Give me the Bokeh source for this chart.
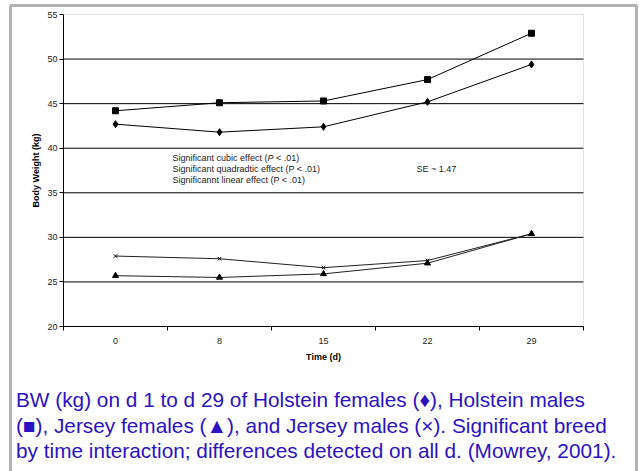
from bokeh.plotting import figure
from bokeh.models import FixedTicker, Label, BoxAnnotation, Range1d
from bokeh.embed import file_html
from bokeh.resources import INLINE

# ---- data ----
days = ["0", "8", "15", "22", "29"]
holstein_f = [42.7, 41.8, 42.4, 45.2, 49.4]
holstein_m = [44.2, 45.1, 45.3, 47.7, 52.9]
jersey_f = [25.7, 25.5, 25.9, 27.1, 30.4]
jersey_m = [27.9, 27.6, 26.6, 27.4, 30.4]
y_ticks = [20, 25, 30, 35, 40, 45, 50, 55]

notes = ["Significant quadradtic effect (P < .01)", "Significannt linear effect (P < .01)"]
caption = [
    "BW (kg) on d 1 to d 29 of Holstein females (\u2666), Holstein males",
    "(\u25a0), Jersey females (\u25b2), and Jersey males (\u00d7). Significant breed",
    "by time interaction; differences detected on all d. (Mowrey, 2001).",
]

FONT = "Liberation Sans"
W, H = 639, 471
# plot area in pixels (layout only)
PL, PR, PT, PB = 63, 583, 14, 326
n = len(days)
ymin, ymax = y_ticks[0], y_ticks[-1]
sx = (PR - PL) / n
sy = (PB - PT) / (ymax - ymin)

xpos = [i + 0.5 for i in range(n)]

p = figure(width=W, height=H, output_backend="svg", toolbar_location=None, tools="",
           x_range=Range1d(-PL / sx, (W - PL) / sx),
           y_range=Range1d(ymin - (H - PB) / sy, ymax + PT / sy),
           min_border=0)
p.background_fill_color = "white"
p.border_fill_color = "white"
p.outline_line_color = None

# x axis
p.xaxis.fixed_location = ymin
p.xaxis.bounds = (0, n)
p.xaxis.ticker = FixedTicker(ticks=xpos, minor_ticks=list(range(n + 1)))
p.xaxis.major_label_overrides = {x: d for x, d in zip(xpos, days)}
p.xaxis.major_tick_out = 0
p.xaxis.major_tick_in = 0
p.xaxis.minor_tick_out = 4
p.xaxis.minor_tick_in = 0
p.xaxis.minor_tick_line_color = "black"
p.xaxis.axis_line_color = "black"
p.xaxis.major_label_standoff = 7
p.xaxis.axis_label = "Time (d)"
p.xaxis.axis_label_standoff = 5

# y axis
p.yaxis.fixed_location = 0
p.yaxis.bounds = (ymin, ymax)
p.yaxis.ticker = FixedTicker(ticks=y_ticks, minor_ticks=[])
p.yaxis.major_tick_out = 4
p.yaxis.major_tick_in = 0
p.yaxis.major_tick_line_color = "black"
p.yaxis.axis_line_color = "black"
p.yaxis.major_label_standoff = 2
p.yaxis.axis_label = "Body Weight (kg)"
p.yaxis.axis_label_standoff = 3

for ax in (p.xaxis[0], p.yaxis[0]):
    ax.major_label_text_font = FONT
    ax.major_label_text_font_size = "9px"
    ax.major_label_text_color = "#222222"
    ax.axis_label_text_font = FONT
    ax.axis_label_text_font_size = "9px"
    ax.axis_label_text_font_style = "bold"
    ax.axis_label_text_color = "black"

p.xgrid.visible = False
p.ygrid.visible = False

# plot-area box and gridlines
p.add_layout(BoxAnnotation(left=0, right=n, bottom=ymin, top=ymax, fill_alpha=0,
                           line_color="#a0a0a0", line_width=1, level="underlay"))
g = y_ticks[1:-1]
p.segment(x0=[0] * len(g), x1=[n] * len(g), y0=g, y1=g, line_color="black",
          line_width=1, level="underlay")

# series
p.line(xpos, holstein_m, line_color="black", line_width=1)
p.scatter(xpos, holstein_m, marker="square", size=6, fill_color="black", line_color="black")
p.line(xpos, holstein_f, line_color="black", line_width=1)
p.scatter(xpos, holstein_f, marker="diamond", size=7, fill_color="black", line_color="black")
p.line(xpos, jersey_m, line_color="#222222", line_width=1)
p.scatter(xpos, jersey_m, marker="x", size=5, line_color="black", line_width=1)
p.line(xpos, jersey_f, line_color="#222222", line_width=1)
p.scatter(xpos, jersey_f, marker="triangle", size=6, fill_color="black", line_color="black")

# annotation text
ax0 = (172 - PL) / sx
def yy(py):
    return ymax - (py - PT) / sy

p.add_layout(Label(x=ax0, y=yy(157), text="Significant cubic effect (", text_font=FONT,
                   text_font_size="9px", text_color="#222222", text_baseline="middle"))
p.add_layout(Label(x=ax0, y=yy(157), x_offset=95, text="P", text_font=FONT, text_font_style="italic",
                   text_font_size="9px", text_color="#222222", text_baseline="middle"))
p.add_layout(Label(x=ax0, y=yy(157), x_offset=103.5, text="< .01)", text_font=FONT,
                   text_font_size="9px", text_color="#222222", text_baseline="middle"))
for t, py in zip(notes, [168, 179]):
    p.add_layout(Label(x=ax0, y=yy(py), text=t, text_font=FONT, text_font_size="9px",
                       text_color="#222222", text_baseline="middle"))
p.add_layout(Label(x=(416 - PL) / sx, y=yy(168), text="SE ~ 1.47", text_font=FONT,
                   text_font_size="9px", text_color="#222222", text_baseline="middle"))

# caption
for i, line in enumerate(caption):
    p.add_layout(Label(x=(15.5 - PL) / sx, y=yy(399 + i * 25.5), text=line, text_font=FONT,
                       text_font_size="20.8px", text_color="#2B12C2",
                       text_baseline="middle"))

# outer frame
p.add_layout(BoxAnnotation(left=(10 - PL) / sx, right=(636 - PL) / sx, top=yy(5), bottom=yy(520),
                           fill_alpha=0, line_color="black", line_width=3))

open("out.html", "w").write(file_html(p, INLINE))
